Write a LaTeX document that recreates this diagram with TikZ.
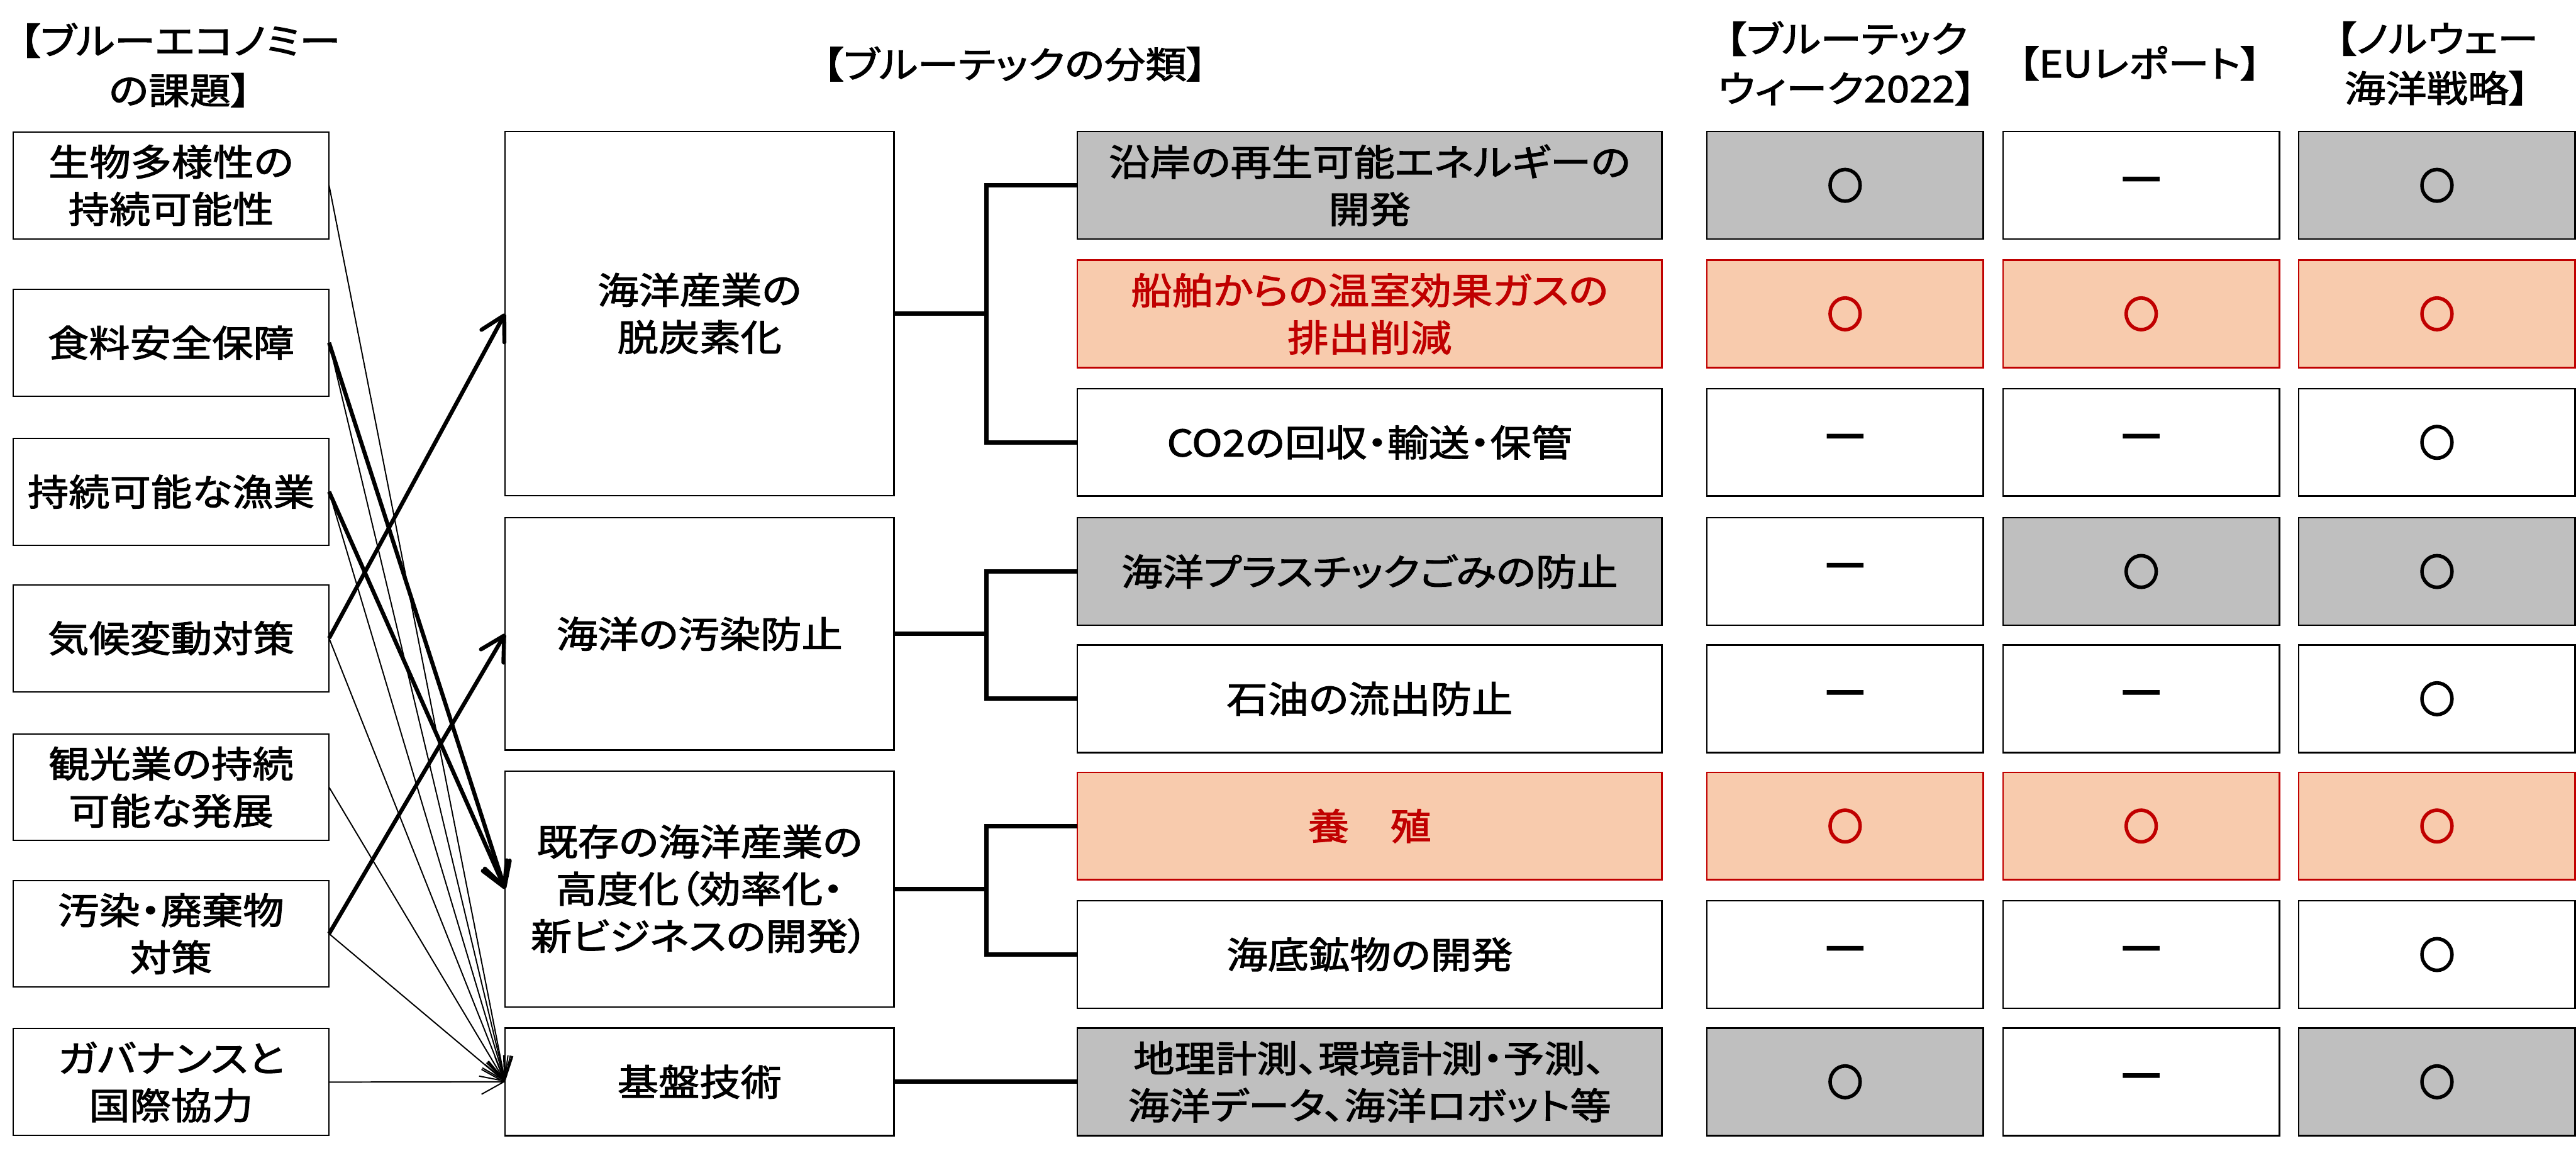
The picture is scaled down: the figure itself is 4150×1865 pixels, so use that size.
\documentclass[tikz,border=0pt]{standalone}
\usepackage{fontspec}
\setmainfont{Noto Sans CJK JP}[FakeStretch=1.12,FakeBold=2,RawFeature=+palt]
\newfontfamily\symf{Noto Sans CJK JP}[FakeStretch=0.95,FakeBold=6]
\newfontfamily\dashf{Noto Sans CJK JP}[FakeStretch=1.3,FakeBold=6]
\usetikzlibrary{arrows.meta}
\definecolor{grayfill}{HTML}{BFBFBF}
\definecolor{peach}{HTML}{F8CBAD}
\definecolor{redtxt}{HTML}{C00000}
\newcommand{\maru}{{\symf ○}}
\newcommand{\nashi}{{\dashf －}}
\begin{document}
\begin{tikzpicture}[x=0.01cm,y=-0.01cm,
  every node/.style={inner sep=0pt, outer sep=0pt, align=center,
    font=\fontsize{16.8pt}{21.6pt}\selectfont},
  head/.style={font=\fontsize{16.8pt}{22.7pt}\selectfont},
  issue/.style={draw, line width=0.02cm, minimum width=5.09cm, minimum height=1.72cm},
  cat/.style={draw, line width=0.025cm, minimum width=6.26cm},
  sub/.style={draw, line width=0.025cm, minimum width=9.41cm, minimum height=1.73cm},
  cell/.style={draw, line width=0.025cm, minimum width=4.45cm, minimum height=1.73cm},
  grayrow/.style={fill=grayfill},
  redrow/.style={fill=peach, draw=redtxt, text=redtxt},
  conn/.style={line width=0.07cm},
  thickarrow/.style={line width=0.065cm, -{Straight Barb[length=0.38cm,width=0.42cm,round]}},
  thinarrow/.style={line width=0.02cm, -{Straight Barb[length=0.36cm,width=0.4cm]}},
]
\useasboundingbox (0,0) rectangle (4150,1865);

% headings
\node[head] (h1) at (290,105) {【ブルーエコノミー\\の課題】};
\node[head] (h2) at (1635,103) {【ブルーテックの分類】};
\node[head] (h3) at (2975,102) {【ブルーテック\\ウィーク2022】};
\node[head] (h4) at (3447,102) {【EUレポート】};
\node[head] (h5) at (3926,102) {【ノルウェー\\海洋戦略】};

% issues
\node[issue] (i1) at (275.5,298.5) {生物多様性の\\持続可能性};
\node[issue] (i2) at (275.5,552) {食料安全保障};
\node[issue] (i3) at (275.5,792) {持続可能な漁業};
\node[issue] (i4) at (275.5,1028) {気候変動対策};
\node[issue] (i5) at (275.5,1268) {観光業の持続\\可能な発展};
\node[issue] (i6) at (275.5,1504) {汚染・廃棄物\\対策};
\node[issue] (i7) at (275.5,1743) {ガバナンスと\\国際協力};

% categories
\node[cat, minimum height=5.86cm] (c1) at (1127,505) {海洋産業の\\脱炭素化};
\node[cat, minimum height=3.74cm] (c2) at (1127,1021) {海洋の汚染防止};
\node[cat, minimum height=3.80cm] (c3) at (1127,1432) {既存の海洋産業の\\高度化（効率化・\\新ビジネスの開発）};
\node[cat, minimum height=1.73cm] (c4) at (1127,1742.5) {基盤技術};

% sub categories
\node[sub, grayrow] (s1) at (2206.5,298.5) {沿岸の再生可能エネルギーの\\開発};
\node[sub, redrow] (s2) at (2206.5,505.5) {船舶からの温室効果ガスの\\排出削減};
\node[sub] (s3) at (2206.5,712.5) {CO2の回収・輸送・保管};
\node[sub, grayrow] (s4) at (2206.5,920.5) {海洋プラスチックごみの防止};
\node[sub] (s5) at (2206.5,1125.5) {石油の流出防止};
\node[sub, redrow] (s6) at (2206.5,1330.5) {養　殖};
\node[sub] (s7) at (2206.5,1537.5) {海底鉱物の開発};
\node[sub, grayrow] (s8) at (2206.5,1742.5) {地理計測、環境計測・予測、\\海洋データ、海洋ロボット等};

% table cells
\node[cell, grayrow] (a1) at (2972.5,298.5) {\maru};
\node[cell] (b1) at (3449.5,298.5) {\nashi};
\node[cell, grayrow] (n1) at (3926,298.5) {\maru};
\node[cell, redrow] (a2) at (2972.5,505.5) {\maru};
\node[cell, redrow] (b2) at (3449.5,505.5) {\maru};
\node[cell, redrow] (n2) at (3926,505.5) {\maru};
\node[cell] (a3) at (2972.5,712.5) {\nashi};
\node[cell] (b3) at (3449.5,712.5) {\nashi};
\node[cell] (n3) at (3926,712.5) {\maru};
\node[cell] (a4) at (2972.5,920.5) {\nashi};
\node[cell, grayrow] (b4) at (3449.5,920.5) {\maru};
\node[cell, grayrow] (n4) at (3926,920.5) {\maru};
\node[cell] (a5) at (2972.5,1125.5) {\nashi};
\node[cell] (b5) at (3449.5,1125.5) {\nashi};
\node[cell] (n5) at (3926,1125.5) {\maru};
\node[cell, redrow] (a6) at (2972.5,1330.5) {\maru};
\node[cell, redrow] (b6) at (3449.5,1330.5) {\maru};
\node[cell, redrow] (n6) at (3926,1330.5) {\maru};
\node[cell] (a7) at (2972.5,1537.5) {\nashi};
\node[cell] (b7) at (3449.5,1537.5) {\nashi};
\node[cell] (n7) at (3926,1537.5) {\maru};
\node[cell, grayrow] (a8) at (2972.5,1742.5) {\maru};
\node[cell] (b8) at (3449.5,1742.5) {\nashi};
\node[cell, grayrow] (n8) at (3926,1742.5) {\maru};

% tree connectors
\draw[conn] (c1.east) -- ++(149,0) coordinate (br1);
\draw[conn] (s1.west) -| (br1) |- (s3.west);
\draw[conn] (c2.east) -- ++(149,0) coordinate (br2);
\draw[conn] (s4.west) -| (br2) |- (s5.west);
\draw[conn] (c3.east) -- ++(149,0) coordinate (br3);
\draw[conn] (s6.west) -| (br3) |- (s7.west);
\draw[conn] (c4.east) -- (s8.west);

% thin arrows to base technology
\foreach \i in {1,...,7} \draw[thinarrow] (i\i.east) -- (c4.west);

% thick arrows
\draw[thickarrow] (i2.east) -- (c3.west);
\draw[thickarrow] (i3.east) -- (c3.west);
\draw[thickarrow] (i4.east) -- (c1.west);
\draw[thickarrow] (i6.east) -- (c2.west);
\end{tikzpicture}
\end{document}
